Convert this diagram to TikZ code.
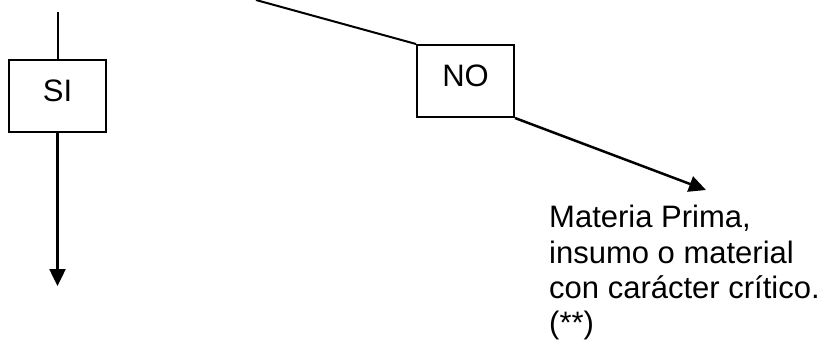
\documentclass[tikz,border=0pt]{standalone}
\usepackage{fontspec}
\setmainfont{Liberation Sans}
\usetikzlibrary{arrows.meta}
\begin{document}
\begin{tikzpicture}[x=1pt,y=-1pt,
  box/.style={draw,line width=2pt,rectangle,minimum width=97pt,minimum height=72pt,inner sep=0pt,
    font=\fontsize{31}{35.4}\selectfont,text height=22pt,text depth=12pt},
  conn/.style={line width=2pt},
  arr/.style={line width=2.5pt,-{Triangle[length=17pt,width=16pt]}},
  note/.style={font=\fontsize{31}{35.4}\selectfont,align=left,inner sep=0pt,anchor=north west}]
\useasboundingbox (0,0) rectangle (837,346);
\node[box] (si) at (57.5,96) {SI};
\node[box] (no) at (465.5,81) {NO};
\coordinate (sitop) at (57.5,12);
\coordinate (siend) at (57.5,286);
\coordinate (nostart) at (256,0);
\coordinate (noend) at (706,190);
\node[note] (txt) at (549,205) {Materia Prima,\\insumo o material\\con carácter crítico.\\(**)};
\draw[conn] (sitop) -- (si.north);
\draw[arr] (si.south) -- (siend);
\draw[conn] (nostart) -- (no.north west);
\draw[arr] (no.south east) -- (noend);
\end{tikzpicture}
\end{document}
